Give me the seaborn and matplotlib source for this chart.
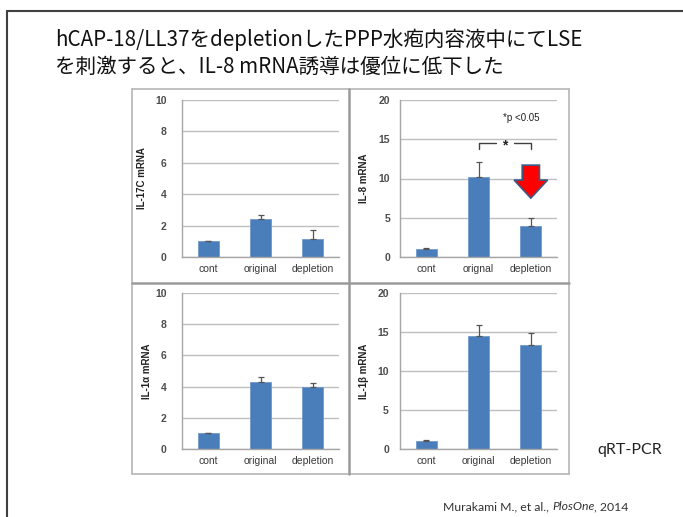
import matplotlib
matplotlib.use("Agg")
import matplotlib.pyplot as plt
import seaborn as sns
import numpy as np
import pandas as pd
from matplotlib.lines import Line2D
from matplotlib.patches import FancyArrow

sns.set_theme(style="white")
plt.rcParams['font.family'] = ['Liberation Sans', 'Noto Sans CJK JP', 'DejaVu Sans']

# ---- data ----
cats_a = ["cont", "original", "depletion"]
cats_b = ["cont", "orignal", "depletion"]

il17c_vals = [1.0, 2.45, 1.15]
il17c_err = [0.03, 0.25, 0.55]

il8_vals = [1.0, 10.2, 3.9]
il8_err = [0.1, 1.9, 1.1]

il1a_vals = [1.0, 4.3, 4.0]
il1a_err = [0.03, 0.3, 0.25]

il1b_vals = [1.0, 14.5, 13.3]
il1b_err = [0.1, 1.4, 1.6]

ylabels = ["IL-17C mRNA", "IL-8 mRNA", "IL-1α mRNA", "IL-1β mRNA"]
yticks_small = [0, 2, 4, 6, 8, 10]
yticks_large = [0, 5, 10, 15, 20]

title1 = "hCAP-18/LL37をdepletionしたPPP水疱内容液中にてLSE"
title2 = "を刺激すると、IL-8 mRNA誘導は優位に低下した"
sig_text = "*p <0.05"
method_text = "qRT-PCR"

W, H = 683, 517
fig = plt.figure(figsize=(W / 100, H / 100), dpi=100)
fig.patch.set_facecolor("white")


def fx(x):
    return x / W


def fy(y):
    return 1 - y / H


def add_ax(l, r, t, b):
    return fig.add_axes([fx(l), fy(b), fx(r) - fx(l), fy(t) - fy(b)])


BAR = "#4A7EBB"


def panel(ax, cats, vals, errs, ylab, ymax, ticks, pad, labx):
    df = pd.DataFrame({"cat": cats, "val": vals})
    sns.barplot(data=df, x="cat", y="val", color=BAR, width=0.4,
                errorbar=None, ax=ax, saturation=1,
                edgecolor="#6F98CB", linewidth=0.6)
    xs = [p.get_x() + p.get_width() / 2 for p in ax.patches]
    ax.errorbar(xs, vals, yerr=[np.zeros(len(vals)), errs], fmt="none",
                ecolor="#555555", elinewidth=0.9, capsize=2.5, capthick=0.9,
                zorder=3)
    ax.set_ylim(0, ymax)
    ax.set_xlim(-0.5, len(cats) - 0.5)
    ax.set_yticks(ticks)
    ax.set_yticklabels([str(t) for t in ticks], fontsize=7.5, fontweight="bold",
                       color="#4D4D4D")
    ax.tick_params(axis="y", length=0, pad=pad)
    ax.tick_params(axis="x", length=0, pad=5, labelsize=7.5, labelcolor="#3A3A3A")
    ax.set_xlabel("")
    ax.set_ylabel(ylab, fontsize=7, fontweight="bold", color="#222222")
    ax.yaxis.set_label_coords(labx, 0.5)
    ax.yaxis.grid(True, color="#BFBFBF", lw=1.0)
    ax.xaxis.grid(False)
    ax.set_axisbelow(True)
    for s in ["top", "right"]:
        ax.spines[s].set_visible(False)
    for s in ["left", "bottom"]:
        ax.spines[s].set_color("#A6A6A6")
        ax.spines[s].set_linewidth(1.0)
    ax.set_facecolor("white")


ax1 = add_ax(182, 339, 100, 257)
ax2 = add_ax(400, 557, 100, 257)
ax3 = add_ax(182, 339, 293, 449)
ax4 = add_ax(400, 557, 293, 449)

panel(ax1, cats_a, il17c_vals, il17c_err, ylabels[0], 10, yticks_small, 11, -0.22)
panel(ax2, cats_b, il8_vals, il8_err, ylabels[1], 20, yticks_large, 7, -0.20)
panel(ax3, cats_a, il1a_vals, il1a_err, ylabels[2], 10, yticks_small, 11, -0.19)
panel(ax4, cats_a, il1b_vals, il1b_err, ylabels[3], 20, yticks_large, 8, -0.20)

# significance bracket on IL-8 panel
top = 14.5
leg = 13.75
gap = 0.17
bc = "#404040"
ax2.plot([1, 1, 1.5 - gap], [leg, top, top], color=bc, lw=1.0, clip_on=False)
ax2.plot([1.5 + gap, 2, 2], [top, top, leg], color=bc, lw=1.0, clip_on=False)
ax2.text(1.5, top - 0.3, "*", ha="center", va="center", fontsize=10,
         fontweight="bold", color="#222222")
ax2.text(1.47, 17.7, sig_text, ha="left", va="center", fontsize=7,
         color="#222222")

# red arrow over depletion
arr = FancyArrow(2, 11.7, 0, -4.2, width=0.33, head_width=0.64,
                 head_length=2.3, length_includes_head=True,
                 facecolor="#FF0000", edgecolor="#3B5A85", lw=1.2, zorder=5)
ax2.add_patch(arr)

# panel boxes
box_c = "#B5B5B5"
for (x0, y0, x1, y1) in [(132, 89, 569, 89), (132, 474, 569, 474),
                         (132, 89, 132, 474), (569, 89, 569, 474)]:
    fig.add_artist(Line2D([fx(x0), fx(x1)], [fy(y0), fy(y1)], color=box_c, lw=1.2))
for (x0, y0, x1, y1) in [(349, 89, 349, 474), (132, 283, 569, 283)]:
    fig.add_artist(Line2D([fx(x0), fx(x1)], [fy(y0), fy(y1)], color="#9A9A9A", lw=1.8))

# slide frame
fig.add_artist(Line2D([fx(7), fx(7)], [fy(11), 0], color="#404040", lw=1.5))
fig.add_artist(Line2D([fx(7), 1], [fy(11), fy(11)], color="#404040", lw=1.5))

# title
tf = ['Noto Sans CJK JP', 'DejaVu Sans']
fig.text(fx(55), fy(40), title1, ha="left", va="center", fontsize=14.8,
         family=tf, color="#111111")
fig.text(fx(55), fy(67), title2, ha="left", va="center", fontsize=14.8,
         family=tf, color="#111111")

fig.text(fx(597), fy(450), method_text, ha="left", va="center", fontsize=11.5,
         family=["Lato", "DejaVu Sans"], color="#222222")
fs_ref = 8.8
fig.text(fx(443), fy(507), "Murakami M., et al., ", ha="left", va="center",
         fontsize=fs_ref, family=["Lato", "DejaVu Sans"], color="#333333")
fig.canvas.draw()
r = fig.texts[-1].get_window_extent()
fig.text(r.x1 / W, fy(507), "PlosOne", ha="left", va="center", fontsize=fs_ref,
         style="italic", family=["Lato", "DejaVu Sans"], color="#333333")
fig.canvas.draw()
r2 = fig.texts[-1].get_window_extent()
fig.text(r2.x1 / W, fy(507), ", 2014", ha="left", va="center", fontsize=fs_ref,
         family=["Lato", "DejaVu Sans"], color="#333333")

fig.savefig("out.png", dpi=100, facecolor="white")
